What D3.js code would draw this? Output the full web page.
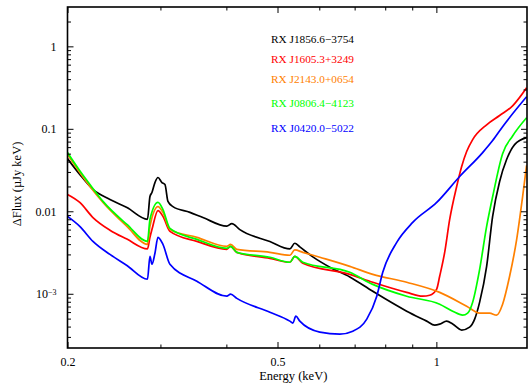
<!DOCTYPE html>
<html lang="en">
<head>
<meta charset="UTF-8">
<title>Delta flux vs energy</title>
<script src="https://d3js.org/d3.v7.min.js"></script>
<style>
  body { margin: 0; background: #fff; }
  svg { display: block; font-family: "Liberation Serif", "DejaVu Serif", serif; }
  .frame { fill: none; stroke: #000; stroke-width: 1.6; }
  .tick line { stroke: #000; stroke-width: 1; }
  .tick text { font-size: 12px; fill: #000; font-family: "Liberation Serif", serif; }
  .title { font-size: 12.5px; fill: #000; }
  .curve { fill: none; stroke-width: 1.7; stroke-linejoin: round; }
  .legend text { font-size: 11.3px; }
</style>
</head>
<body>
<svg id="chart" width="528" height="385"></svg>
<script>
// series names and colours (legend order)
const names = ["RX J1856.6\u22123754", "RX J1605.3+3249", "RX J2143.0+0654", "RX J0806.4\u22124123", "RX J0420.0\u22125022"];
const colors = ["#000000", "#ff0000", "#ff8000", "#00ff00", "#0000ff"];

// [energy keV, delta flux]
const rxj1856 = [[0.2,0.0435],[0.211,0.028],[0.2235,0.0184],[0.2407,0.0139],[0.2592,0.0111],[0.2835,0.0080],[0.2866,0.0151],[0.2891,0.0169],[0.2929,0.0223],[0.2968,0.0257],[0.302,0.0223],[0.306,0.0211],[0.310,0.0132],[0.3168,0.0114],[0.3412,0.0097],[0.3611,0.0084],[0.4008,0.0066],[0.4097,0.0071],[0.4242,0.0060],[0.4836,0.0043],[0.5276,0.0035],[0.5391,0.0041],[0.5511,0.0037],[0.5833,0.0028],[0.6282,0.0021],[0.6854,0.0016],[0.7577,0.00107],[0.8786,0.000615],[0.9586,0.000466],[0.9927,0.000417],[1.0145,0.000428],[1.046,0.000466],[1.0737,0.00043],[1.1167,0.000363],[1.1563,0.000394],[1.1818,0.000492],[1.2078,0.000791],[1.2452,0.00215],[1.2782,0.00867],[1.3178,0.0230],[1.3586,0.0424],[1.4068,0.0643],[1.4824,0.0781]];
const rxj1605 = [[0.2,0.0160],[0.211,0.0128],[0.2235,0.0084],[0.2407,0.0059],[0.2592,0.0046],[0.2835,0.0035],[0.2866,0.00483],[0.2891,0.0060],[0.2968,0.0102],[0.3033,0.00867],[0.3127,0.00571],[0.3517,0.00432],[0.4008,0.00346],[0.4075,0.00376],[0.4187,0.00318],[0.4836,0.00269],[0.5276,0.00241],[0.5391,0.00284],[0.5584,0.00234],[0.6854,0.00172],[0.7577,0.00138],[0.8786,0.00104],[0.942,0.000934],[0.9713,0.00096],[1.0014,0.00114],[1.0145,0.00163],[1.0369,0.00318],[1.0598,0.00797],[1.0926,0.0200],[1.1167,0.0349],[1.1413,0.053],[1.1715,0.074],[1.2452,0.112],[1.3178,0.145],[1.3946,0.19],[1.4824,0.3145]];
const rxj2143 = [[0.2,0.0487],[0.211,0.0295],[0.2206,0.0200],[0.2335,0.0128],[0.2592,0.00656],[0.2835,0.00397],[0.2866,0.00656],[0.2968,0.0114],[0.3033,0.00969],[0.3127,0.00603],[0.3517,0.00483],[0.4008,0.00376],[0.4075,0.00397],[0.4187,0.00346],[0.4836,0.00318],[0.5276,0.00293],[0.5391,0.0034],[0.5584,0.00318],[0.6014,0.00277],[0.6854,0.00215],[0.7577,0.00172],[0.8786,0.00138],[1.0145,0.00104],[1.1413,0.000707],[1.2078,0.000582],[1.2616,0.000582],[1.3006,0.00055],[1.3351,0.000748],[1.3765,0.00163],[1.4191,0.0045],[1.4567,0.0150],[1.4824,0.036]];
const rxj0806 = [[0.2,0.0515],[0.211,0.031],[0.2206,0.0211],[0.2335,0.0132],[0.2592,0.00694],[0.2835,0.00432],[0.2866,0.00797],[0.2968,0.0128],[0.3033,0.0105],[0.3127,0.0062],[0.3517,0.00457],[0.4008,0.00356],[0.4075,0.00376],[0.4187,0.00318],[0.4836,0.00277],[0.5276,0.00241],[0.5391,0.00284],[0.5584,0.00241],[0.6854,0.00182],[0.7577,0.0013],[0.8786,0.000934],[1.0145,0.000748],[1.0737,0.000615],[1.1215,0.00055],[1.1463,0.000582],[1.1715,0.000791],[1.2078,0.00198],[1.2452,0.00656],[1.2782,0.015],[1.3351,0.05],[1.3946,0.082],[1.4824,0.1364]];
const rxj0420 = [[0.2,0.00867],[0.211,0.00656],[0.2235,0.00432],[0.2407,0.0030],[0.2592,0.0022],[0.2835,0.0015],[0.2866,0.00284],[0.2891,0.00228],[0.2929,0.0031],[0.2968,0.00483],[0.3033,0.00397],[0.3127,0.00228],[0.3517,0.00142],[0.4008,0.000934],[0.4075,0.000988],[0.4187,0.00088],[0.4836,0.000598],[0.5276,0.000466],[0.5346,0.000441],[0.5416,0.000535],[0.5511,0.000466],[0.6014,0.000343],[0.6562,0.000324],[0.6944,0.000352],[0.7381,0.000492],[0.771,0.000934],[0.7914,0.00182],[0.8412,0.0042],[0.9019,0.00733],[1.0014,0.0128],[1.107,0.0264],[1.2237,0.0515],[1.2782,0.072],[1.3351,0.1062],[1.4824,0.2447]];
const series = [rxj1856, rxj1605, rxj2143, rxj0806, rxj0420];

// axis ticks
const xMajor = [0.2, 0.5, 1];
const xMinor = [0.3, 0.4, 0.6, 0.7, 0.8, 0.9];
const yMajor = [0.001, 0.01, 0.1, 1];
const yLabels = ["10", "0.01", "0.1", "1"];

const plotL = 67.5, plotR = 527, plotT = 7, plotB = 348;

const svg = d3.select("#chart");

const x = d3.scaleLog().domain([0.2, 1.485]).range([plotL, plotR]);
const y = d3.scaleLog().domain([2.2e-4, 3]).range([plotB, plotT]);

const yMinor = [];
for (let p = -4; p <= 0; p++) {
  for (let k = 2; k <= 9; k++) {
    const v = k * Math.pow(10, p);
    if (v > y.domain()[0] && v < y.domain()[1]) yMinor.push(v);
  }
}

svg.append("clipPath").attr("id", "clip")
  .append("rect").attr("x", plotL).attr("y", plotT)
  .attr("width", plotR - plotL).attr("height", plotB - plotT);

// curves
const line = d3.line()
  .x(d => x(d[0]))
  .y(d => y(d[1]))
  .curve(d3.curveMonotoneX);

svg.append("g").attr("clip-path", "url(#clip)")
  .selectAll("path")
  .data(series)
  .join("path")
  .attr("class", "curve")
  .attr("stroke", (d, i) => colors[i])
  .attr("d", line);

// ticks, all pointing inward
const drawAxis = (axis, tx, ty) => {
  const g = svg.append("g").attr("transform", `translate(${tx},${ty})`).call(axis);
  g.select(".domain").remove();
  return g;
};

drawAxis(d3.axisBottom(x).tickValues(xMajor).tickSize(-6).tickPadding(9)
  .tickFormat(d3.format("")), 0, plotB);
drawAxis(d3.axisBottom(x).tickValues(xMinor).tickSize(-3.5).tickFormat(""), 0, plotB);
drawAxis(d3.axisTop(x).tickValues(xMajor).tickSize(-6).tickFormat(""), 0, plotT);
drawAxis(d3.axisTop(x).tickValues(xMinor).tickSize(-3.5).tickFormat(""), 0, plotT);

const yl = drawAxis(d3.axisLeft(y).tickValues(yMajor).tickSize(-6).tickPadding(11)
  .tickFormat((d, i) => yLabels[i]), plotL, 0);
drawAxis(d3.axisLeft(y).tickValues(yMinor).tickSize(-3.5).tickFormat(""), plotL, 0);
drawAxis(d3.axisRight(y).tickValues(yMajor).tickSize(-6).tickFormat(""), plotR, 0);
drawAxis(d3.axisRight(y).tickValues(yMinor).tickSize(-3.5).tickFormat(""), plotR, 0);

// 10^-3 label with superscript
yl.selectAll(".tick text").filter(d => d === 0.001)
  .append("tspan").attr("dy", "-0.45em").attr("font-size", "8px").text("\u22123");

svg.append("rect").attr("class", "frame")
  .attr("x", plotL).attr("y", plotT)
  .attr("width", plotR - plotL).attr("height", plotB - plotT);

// axis titles
svg.append("text").attr("class", "title")
  .attr("x", (plotL + plotR) / 2 - 4).attr("y", 380)
  .attr("text-anchor", "middle")
  .text("Energy (keV)");

svg.append("text").attr("class", "title")
  .attr("transform", "translate(21,184) rotate(-90)")
  .attr("text-anchor", "middle")
  .text("\u0394Flux (\u00b5Jy keV)");

// legend
const legendY = [43, 63, 83, 107, 132];
svg.append("g").attr("class", "legend")
  .selectAll("text")
  .data(names)
  .join("text")
  .attr("x", 271)
  .attr("y", (d, i) => legendY[i])
  .attr("fill", (d, i) => colors[i])
  .text(d => d);
</script>
</body>
</html>
